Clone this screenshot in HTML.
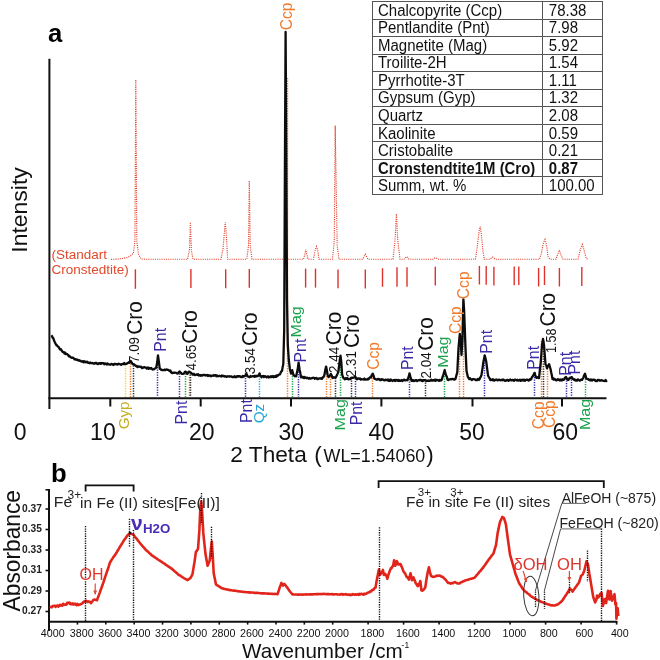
<!DOCTYPE html>
<html><head><meta charset="utf-8"><style>
html,body{margin:0;padding:0;background:#fff;}
svg{display:block;font-family:"Liberation Sans", sans-serif;will-change:transform;}
</style></head><body>
<svg width="660" height="660" viewBox="0 0 660 660">
<rect width="660" height="660" fill="#fff"/>
<path transform="translate(0 0.6)" d="M111 258.8 L120 258.3 L127 257 L131 255 L133.5 252 L134.9 240 L135.8 79 L136.8 240 L138.5 254 L141 258.3 L145 258.6 L187.5 258.6 L189.4 250 L190.4 221.6 L191.4 250 L193 258.6 L221 258.6 L223 248 L225.3 221.6 L226.4 235 L227.6 258.6 L246.8 258.6 L248.5 245 L249.3 180 L250.2 245 L252 258.6 L303.5 258.6 L305 253 L305.8 249 L306.6 253 L308 258.6 L313.5 258.6 L315 250 L316.4 246 L317.8 250 L319 258.6 L332.5 258.6 L334.3 240 L335.2 125 L336.4 200 L337.2 245 L339 258.6 L362.5 258.6 L365.3 253.6 L368 258.6 L393 258.6 L395 240 L396.4 213.3 L397.8 240 L400 258.6 L404 258.6 L406.6 256 L409 258.6 L433 258.6 L435.5 257 L438 258.6 L475.5 258.6 L477.3 246 L479.3 229 L480.2 226 L481.3 233 L482.7 248 L484.2 258.6 L490 258.6 L492.7 256.5 L495 258.6 L539.5 258.6 L541.5 252 L543.5 242 L545 238.8 L546.5 244 L548 256 L550 258.6 L556 258.6 L558 253 L559.3 249.4 L560.8 254 L563 258.6 L578 258.6 L580.3 249 L582.3 243.9 L584.2 250 L586.2 258 L588.5 258.6" fill="none" stroke="#e4452f" stroke-width="1.15" stroke-dasharray="1.1 1.1" />
<line x1="135.4" y1="269.3" x2="135.4" y2="288.8" stroke="#e0322c" stroke-width="1.4"/>
<line x1="190.9" y1="268.9" x2="190.9" y2="288" stroke="#e0322c" stroke-width="1.4"/>
<line x1="225.7" y1="269.3" x2="225.7" y2="288.3" stroke="#e0322c" stroke-width="1.4"/>
<line x1="249.3" y1="268.9" x2="249.3" y2="287.7" stroke="#e0322c" stroke-width="1.4"/>
<line x1="305.6" y1="268.6" x2="305.6" y2="287.6" stroke="#e0322c" stroke-width="1.4"/>
<line x1="315.5" y1="268.6" x2="315.5" y2="287.6" stroke="#e0322c" stroke-width="1.4"/>
<line x1="338" y1="269.4" x2="338" y2="288.3" stroke="#e0322c" stroke-width="1.4"/>
<line x1="365.3" y1="269.5" x2="365.3" y2="288.6" stroke="#e0322c" stroke-width="1.4"/>
<line x1="382.5" y1="268.2" x2="382.5" y2="286.8" stroke="#e0322c" stroke-width="1.4"/>
<line x1="397" y1="267.3" x2="397" y2="286.8" stroke="#e0322c" stroke-width="1.4"/>
<line x1="407" y1="267.3" x2="407" y2="286.8" stroke="#e0322c" stroke-width="1.4"/>
<line x1="435.3" y1="266.8" x2="435.3" y2="285.5" stroke="#e0322c" stroke-width="1.4"/>
<line x1="479.4" y1="265.9" x2="479.4" y2="284.5" stroke="#e0322c" stroke-width="1.4"/>
<line x1="486.2" y1="265.9" x2="486.2" y2="284.7" stroke="#e0322c" stroke-width="1.4"/>
<line x1="493.9" y1="266.8" x2="493.9" y2="285.6" stroke="#e0322c" stroke-width="1.4"/>
<line x1="514.2" y1="266.4" x2="514.2" y2="285.3" stroke="#e0322c" stroke-width="1.4"/>
<line x1="518.8" y1="266.4" x2="518.8" y2="285" stroke="#e0322c" stroke-width="1.4"/>
<line x1="538.6" y1="267.9" x2="538.6" y2="286.5" stroke="#e0322c" stroke-width="1.4"/>
<line x1="544.5" y1="265.9" x2="544.5" y2="285" stroke="#e0322c" stroke-width="1.4"/>
<line x1="559.4" y1="267.9" x2="559.4" y2="286.5" stroke="#e0322c" stroke-width="1.4"/>
<line x1="581.8" y1="267.1" x2="581.8" y2="285.9" stroke="#e0322c" stroke-width="1.4"/>
<text x="51.5" y="258.6" font-size="13.5" fill="#e04a2c">(Standart</text>
<text x="51.5" y="274.2" font-size="13.5" fill="#e04a2c">Cronstedtite)</text>
<line x1="125.5" y1="363" x2="125.5" y2="397" stroke="#f0d43a" stroke-width="1.5" stroke-dasharray="1.3 1.2"/>
<line x1="130.5" y1="361" x2="130.5" y2="397" stroke="#f07a2a" stroke-width="1.5" stroke-dasharray="1.3 1.2"/>
<line x1="133.5" y1="363" x2="133.5" y2="397" stroke="#2a2a2a" stroke-width="1.5" stroke-dasharray="1.3 1.2"/>
<line x1="157.5" y1="357" x2="157.5" y2="397" stroke="#3a2aa6" stroke-width="1.5" stroke-dasharray="1.3 1.2"/>
<line x1="179.5" y1="371" x2="179.5" y2="397" stroke="#3a2aa6" stroke-width="1.5" stroke-dasharray="1.3 1.2"/>
<line x1="185.5" y1="371" x2="185.5" y2="397" stroke="#1aa24c" stroke-width="1.5" stroke-dasharray="1.3 1.2"/>
<line x1="189.5" y1="372" x2="189.5" y2="397" stroke="#f07a2a" stroke-width="1.5" stroke-dasharray="1.3 1.2"/>
<line x1="190.5" y1="372" x2="190.5" y2="397" stroke="#2a2a2a" stroke-width="1.5" stroke-dasharray="1.3 1.2"/>
<line x1="245.5" y1="373" x2="245.5" y2="397" stroke="#3a2aa6" stroke-width="1.5" stroke-dasharray="1.3 1.2"/>
<line x1="259.5" y1="373.5" x2="259.5" y2="397" stroke="#2aa6dc" stroke-width="1.5" stroke-dasharray="1.3 1.2"/>
<line x1="287.5" y1="78" x2="287.5" y2="397" stroke="#f07a2a" stroke-width="1.5" stroke-dasharray="1.3 1.2"/>
<line x1="292.5" y1="371" x2="292.5" y2="397" stroke="#1aa24c" stroke-width="1.5" stroke-dasharray="1.3 1.2"/>
<line x1="298.5" y1="364" x2="298.5" y2="397" stroke="#3a2aa6" stroke-width="1.5" stroke-dasharray="1.3 1.2"/>
<line x1="326.5" y1="366" x2="326.5" y2="397" stroke="#f07a2a" stroke-width="1.5" stroke-dasharray="1.3 1.2"/>
<line x1="330.5" y1="374" x2="330.5" y2="397" stroke="#f07a2a" stroke-width="1.5" stroke-dasharray="1.3 1.2"/>
<line x1="335.5" y1="378" x2="335.5" y2="397" stroke="#2a2a2a" stroke-width="1.5" stroke-dasharray="1.3 1.2"/>
<line x1="340.5" y1="357" x2="340.5" y2="397" stroke="#1aa24c" stroke-width="1.5" stroke-dasharray="1.3 1.2"/>
<line x1="351.5" y1="378" x2="351.5" y2="397" stroke="#2a2a2a" stroke-width="1.5" stroke-dasharray="1.3 1.2"/>
<line x1="355.5" y1="376" x2="355.5" y2="397" stroke="#3a2aa6" stroke-width="1.5" stroke-dasharray="1.3 1.2"/>
<line x1="372.5" y1="373" x2="372.5" y2="397" stroke="#f07a2a" stroke-width="1.5" stroke-dasharray="1.3 1.2"/>
<line x1="409.5" y1="374" x2="409.5" y2="397" stroke="#3a2aa6" stroke-width="1.5" stroke-dasharray="1.3 1.2"/>
<line x1="425.5" y1="380" x2="425.5" y2="397" stroke="#2a2a2a" stroke-width="1.5" stroke-dasharray="1.3 1.2"/>
<line x1="444.5" y1="371" x2="444.5" y2="397" stroke="#1aa24c" stroke-width="1.5" stroke-dasharray="1.3 1.2"/>
<line x1="459.5" y1="336" x2="459.5" y2="397" stroke="#f07a2a" stroke-width="1.5" stroke-dasharray="1.3 1.2"/>
<line x1="463.5" y1="301" x2="463.5" y2="397" stroke="#f07a2a" stroke-width="1.5" stroke-dasharray="1.3 1.2"/>
<line x1="484.5" y1="355" x2="484.5" y2="397" stroke="#3a2aa6" stroke-width="1.5" stroke-dasharray="1.3 1.2"/>
<line x1="534.5" y1="372" x2="534.5" y2="397" stroke="#3a2aa6" stroke-width="1.5" stroke-dasharray="1.3 1.2"/>
<line x1="541.5" y1="341" x2="541.5" y2="397" stroke="#f07a2a" stroke-width="1.5" stroke-dasharray="1.3 1.2"/>
<line x1="543.5" y1="341" x2="543.5" y2="397" stroke="#2a2a2a" stroke-width="1.5" stroke-dasharray="1.3 1.2"/>
<line x1="547.5" y1="366" x2="547.5" y2="397" stroke="#f07a2a" stroke-width="1.5" stroke-dasharray="1.3 1.2"/>
<line x1="566.5" y1="378" x2="566.5" y2="397" stroke="#3a2aa6" stroke-width="1.5" stroke-dasharray="1.3 1.2"/>
<line x1="571.5" y1="377" x2="571.5" y2="397" stroke="#3a2aa6" stroke-width="1.5" stroke-dasharray="1.3 1.2"/>
<line x1="585.5" y1="374" x2="585.5" y2="397" stroke="#1aa24c" stroke-width="1.5" stroke-dasharray="1.3 1.2"/>
<path d="M51.4 335.35 L52.03 336.11 L52.67 337.81 L53.3 338 L54.07 340.55 L54.83 342.21 L55.6 343.68 L56.23 345.01 L56.87 345.05 L57.5 346.31 L58.13 346.5 L58.77 347.23 L59.4 348.39 L60.03 349.52 L60.67 349.11 L61.3 349.81 L61.93 350.95 L62.57 351.96 L63.2 352.01 L63.82 352.19 L64.43 353.43 L65.05 352.57 L65.67 354.14 L66.28 353.77 L66.9 354 L67.53 354.41 L68.17 355.13 L68.8 356.29 L69.43 355.85 L70.07 356.86 L70.7 357.39 L71.33 357.34 L71.97 357.9 L72.6 357.54 L73.23 357.85 L73.87 358.37 L74.5 359.35 L75.13 359.18 L75.77 359.21 L76.4 359.77 L77.03 359.77 L77.67 359.74 L78.3 360.61 L78.93 360.66 L79.57 360.21 L80.2 360.85 L80.83 360.97 L81.47 361.64 L82.1 361.62 L82.73 361.14 L83.37 362.24 L84 361.17 L84.63 361.72 L85.27 362.33 L85.9 361.61 L86.53 362.18 L87.17 361.65 L87.8 362.64 L88.43 362.87 L89.07 362.7 L89.7 363.23 L90.33 362.51 L90.97 363.11 L91.6 363.03 L92.23 363.08 L92.87 362.97 L93.5 363.58 L94.12 363.76 L94.73 363.13 L95.35 363.43 L95.97 362.62 L96.58 363.55 L97.2 363.51 L97.84 364.04 L98.47 363.84 L99.11 363.14 L99.74 363.33 L100.38 363.77 L101.01 362.91 L101.65 363.58 L102.28 363.21 L102.92 363.19 L103.55 363.15 L104.19 364.19 L104.82 363.35 L105.46 363.56 L106.09 363.81 L106.73 364.53 L107.36 363.47 L108 364.03 L108.62 364.19 L109.25 364.69 L109.88 364.62 L110.5 364.71 L111.12 363.91 L111.75 364.13 L112.38 364.08 L113 364.84 L113.62 364.97 L114.25 363.86 L114.88 363.92 L115.5 364.02 L116.12 364.05 L116.75 364.43 L117.38 364.6 L118 364.17 L118.62 363.72 L119.24 364.22 L119.85 364.07 L120.47 364.27 L121.09 364.73 L121.71 364.28 L122.33 363.95 L122.95 364.01 L123.56 364.01 L124.18 363.06 L124.8 364.16 L125.44 363.91 L126.08 363.96 L126.72 363.78 L127.36 363.13 L128 363.06 L128.75 362.29 L129.5 362.69 L130.7 360.99 L131.3 361.89 L131.9 362.99 L132.5 363.83 L133.12 364.43 L133.73 364.37 L134.35 364.65 L134.97 365.21 L135.58 365.49 L136.2 366.21 L136.8 365.84 L137.4 367.12 L138 366.86 L138.6 366.31 L139.2 366.55 L139.8 366.79 L140.4 366.91 L141 366.67 L141.6 367.79 L142.24 368.08 L142.88 367.43 L143.52 367.55 L144.16 367.08 L144.8 367.19 L145.44 367.62 L146.08 367.6 L146.72 368.48 L147.36 367.64 L148 367.53 L148.64 368.92 L149.28 368.42 L149.92 367.98 L150.56 368.62 L151.2 367.99 L151.84 368.78 L152.48 369.5 L153.12 369.43 L153.76 369.28 L154.4 368.77 L155.3 368.46 L156.2 367.73 L157.3 361.78 L158 355.35 L158.9 361.79 L159.8 368.86 L160.41 368.81 L161.02 369.74 L161.63 370.08 L162.24 369.99 L162.86 370.03 L163.47 370.15 L164.08 370.14 L164.69 369.52 L165.3 370.02 L165.93 369.86 L166.55 369.47 L167.18 369.53 L167.8 369.94 L168.43 369.98 L169.05 370.64 L169.68 371.08 L170.3 370.43 L170.95 372.01 L171.6 372.98 L172.3 373.16 L173 372.56 L173.7 372.58 L174.4 372.82 L175.12 372.72 L175.84 372.67 L176.56 373.19 L177.28 373.52 L178 373.38 L178.85 372.07 L179.7 371.51 L180.35 372.72 L181 372.72 L181.6 373.56 L182.2 373.95 L182.8 373.82 L183.4 373.81 L184 373.47 L184.8 371.95 L185.6 371.7 L186.3 372.17 L187 373.92 L187.68 373.61 L188.35 372.25 L189.02 371.71 L189.7 371.93 L190.3 372.51 L190.9 372.64 L191.5 373.48 L192.11 373.59 L192.71 374.72 L193.32 374.66 L193.93 373.82 L194.54 374.85 L195.14 375.14 L195.75 374.77 L196.36 374.42 L196.96 374.78 L197.57 374.27 L198.18 374.18 L198.79 375.6 L199.39 375.23 L200 375.14 L200.61 375.73 L201.21 375.06 L201.82 375.7 L202.42 375.67 L203.03 374.83 L203.64 374.92 L204.24 375 L204.85 374.95 L205.45 375.47 L206.06 375.04 L206.67 375.29 L207.27 374.91 L207.88 376.03 L208.48 375.28 L209.09 375.45 L209.7 375.65 L210.3 376.13 L210.91 375.48 L211.52 376.2 L212.12 375.65 L212.73 375.72 L213.33 375.73 L213.94 375.05 L214.55 375.67 L215.15 375.34 L215.76 375.11 L216.36 376.26 L216.97 375.4 L217.58 375.85 L218.18 376.23 L218.79 376.02 L219.39 375.73 L220 376.03 L220.61 376.1 L221.21 376.45 L221.82 375.52 L222.42 376.18 L223.03 375.77 L223.64 375.83 L224.24 376.55 L224.85 376.2 L225.45 376.3 L226.06 376.61 L226.67 376.84 L227.27 376.21 L227.88 376.47 L228.48 376.35 L229.09 376.38 L229.7 376.66 L230.3 376.35 L230.91 376.48 L231.52 376.43 L232.12 377.1 L232.73 376.79 L233.33 377.06 L233.94 377.18 L234.55 376.25 L235.15 376.69 L235.76 377.25 L236.36 377.13 L236.97 376.17 L237.58 376.17 L238.18 376.65 L238.79 376.15 L239.39 376.41 L240 376.2 L240.64 376.97 L241.29 377.05 L241.93 377.14 L242.57 376.03 L243.21 376.75 L243.86 376.6 L244.5 375.8 L245.35 375.59 L246.2 374.45 L246.8 374.34 L247.4 376.3 L248 376.46 L248.63 376.57 L249.27 377.26 L249.9 377.03 L250.53 376.07 L251.17 376.44 L251.8 376.54 L252.43 376.28 L253.07 376.07 L253.7 376.23 L254.33 376.78 L254.97 375.78 L255.6 376.52 L256.23 376.34 L256.87 375.74 L257.5 376.16 L258.17 375.77 L258.83 374.82 L259.5 373.39 L260.17 375.55 L260.83 376.14 L261.5 377.26 L262.11 376.07 L262.71 376.31 L263.32 376.02 L263.93 377.08 L264.54 376.39 L265.14 376.21 L265.75 376.64 L266.36 377.35 L266.96 377.24 L267.57 376.48 L268.18 376.34 L268.79 377.44 L269.39 376.98 L270 377.18 L270.6 376.28 L271.2 376.18 L271.8 377.01 L272.4 376.6 L273 376.05 L273.6 377.21 L274.2 376.74 L274.8 376.92 L275.4 375.87 L276 376.9 L276.7 375.41 L277.4 376.15 L278.1 375.2 L278.8 374.65 L279.5 374.57 L280.12 374.22 L280.75 372.43 L281.38 371.36 L282 371.04 L282.65 367.13 L283.3 364 L284.2 330 L285 150 L285.6 32 L286.3 150 L287 300 L287.8 345 L288.8 360 L289.8 368.45 L291 373.53 L292.2 370.17 L292.85 372.73 L293.5 375.24 L294.18 375.4 L294.85 376.21 L295.52 375.73 L296.2 376.2 L296.9 372.65 L297.6 369.79 L298.6 362.63 L299.6 369.65 L300.3 372.82 L301 377.33 L301.6 377.15 L302.2 376.73 L302.8 377.2 L303.4 377.93 L304 376.85 L304.6 377.93 L305.2 377.47 L305.8 377.63 L306.4 378.19 L307 377.65 L307.6 377.89 L308.2 378.22 L308.8 378.72 L309.4 377.9 L310 378.67 L310.6 378.52 L311.2 378.45 L311.8 378.16 L312.4 378.11 L313 377.73 L313.6 377.86 L314.2 377.81 L314.8 378.78 L315.4 378.13 L316 378.03 L316.6 377.95 L317.2 379.04 L317.8 379.11 L318.4 378.86 L319 378.34 L319.6 378.32 L320.2 378.42 L320.8 378.68 L321.4 378.29 L322 378.72 L322.62 377.39 L323.25 377.3 L323.88 376.24 L324.5 374.57 L325.3 369.89 L326.1 366.65 L326.85 370.23 L327.6 374.8 L328.5 377.1 L329.3 376.37 L330.1 375.23 L330.9 374 L331.75 375.58 L332.6 378.01 L333.28 377.27 L333.96 377.59 L334.64 377.31 L335.32 377.7 L336 377.16 L336.8 375.2 L337.6 373.66 L338.4 371.63 L339.1 366.12 L339.8 360.04 L340.5 355.75 L341.3 362.22 L342.1 374.3 L342.85 376.78 L343.6 378.35 L344.24 378.29 L344.88 379.24 L345.52 378.1 L346.16 378.93 L346.8 378.85 L347.44 378.04 L348.08 379.18 L348.72 379.29 L349.36 378.95 L350 379.13 L350.64 378.95 L351.27 377.72 L351.91 377.97 L352.55 377.66 L353.19 377.83 L353.83 377.5 L354.46 377.24 L355.1 376.62 L355.73 377.88 L356.37 378.42 L357 379.27 L357.61 378.64 L358.22 378.39 L358.83 378.55 L359.44 378.89 L360.06 378.56 L360.67 379.6 L361.28 379.24 L361.89 379.36 L362.5 379.38 L363.11 379.48 L363.72 379.23 L364.33 378.57 L364.94 379.71 L365.56 379.66 L366.17 379.34 L366.78 379.4 L367.39 379.6 L368 378.79 L368.6 379.29 L369.2 378.17 L369.8 377.48 L370.4 377.31 L371 377.52 L371.6 375.39 L372.2 374.74 L372.8 373.67 L373.6 375.89 L374.4 378.64 L375.02 378.88 L375.64 379.28 L376.27 379.51 L376.89 379.41 L377.51 379.56 L378.13 378.88 L378.76 379.08 L379.38 379.34 L380 380.14 L380.6 379.55 L381.2 379.94 L381.8 379.19 L382.4 379.28 L383 379.6 L383.6 380.18 L384.2 380.24 L384.8 380.24 L385.4 379.72 L386 380.06 L386.6 380.01 L387.2 380.04 L387.8 379.58 L388.4 380.69 L389 379.74 L389.6 380.85 L390.2 380.82 L390.8 379.56 L391.4 380.2 L392 380.73 L392.6 380.96 L393.2 380.26 L393.8 380.03 L394.4 379.97 L395 381.02 L395.62 379.99 L396.25 380.51 L396.88 379.9 L397.5 380.43 L398.12 381.03 L398.75 379.89 L399.38 380.85 L400 380.41 L400.62 380.94 L401.25 380.68 L401.88 380.02 L402.5 380.96 L403.12 380.38 L403.75 379.73 L404.38 379.71 L405 380.39 L405.62 380.33 L406.25 380.12 L406.88 379.9 L407.5 380.18 L408.7 376.74 L409.5 373.38 L410.4 376.8 L411.5 380.75 L412.12 380.87 L412.75 379.87 L413.38 381 L414 380.7 L414.62 380.96 L415.25 380.11 L415.88 380.22 L416.5 380.25 L417.12 381.1 L417.75 380.52 L418.38 380.2 L419 380.3 L419.62 380.09 L420.25 379.77 L420.88 379.84 L421.5 380.87 L422.12 380.1 L422.75 381.01 L423.38 380.05 L424 380.07 L424.6 380.41 L425.21 379.95 L425.81 380.2 L426.41 381.01 L427.02 380.9 L427.62 380.8 L428.22 380.53 L428.83 380.92 L429.43 380.95 L430.03 380.4 L430.64 380.63 L431.24 379.69 L431.84 380.64 L432.45 380.23 L433.05 380.65 L433.66 380.49 L434.26 379.98 L434.86 379.64 L435.47 380.87 L436.07 379.74 L436.67 380.22 L437.28 380.03 L437.88 379.96 L438.48 380.57 L439.09 380.89 L439.69 379.88 L440.29 380.43 L440.9 379.93 L441.5 380.28 L442.35 377.7 L443.2 375.03 L443.95 372.48 L444.7 369.99 L445.35 373.27 L446 375 L446.8 376.71 L447.6 379.77 L448.23 380.1 L448.87 379.53 L449.5 379.3 L450.1 379.29 L450.7 379.07 L451.3 379.34 L451.9 378.91 L452.5 379.03 L453.1 378.98 L453.7 379.34 L454.3 379.7 L454.9 379.43 L455.5 378.88 L456.1 376.55 L456.7 374.37 L457.3 372 L458.5 348 L459.15 341 L459.8 334 L460.8 342 L461.5 355 L462.4 340 L463.1 310 L463.4 299.3 L464.1 310 L464.8 329 L465.5 348 L466.5 370.83 L467.25 374.27 L468 377.39 L468.67 377.94 L469.33 379.15 L470 378.23 L470.67 379 L471.33 379.43 L472 380.01 L472.64 379.11 L473.27 379.2 L473.91 379.18 L474.55 379.4 L475.18 379.47 L475.82 380.19 L476.45 380.05 L477.09 380.09 L477.73 378.91 L478.36 378.94 L479 379.89 L479.62 379.13 L480.25 377.51 L480.88 376.65 L481.5 374.8 L482.1 370.85 L482.7 367.1 L483.3 362.46 L484 358.85 L484.7 355.36 L485.45 358 L486.2 361.45 L486.8 365.85 L487.4 370.7 L488 375.25 L488.62 376.82 L489.25 377.71 L489.88 378.81 L490.5 380.17 L491.13 379.77 L491.77 379.93 L492.4 379.24 L493.03 380.3 L493.67 379.56 L494.3 380.55 L494.93 380.19 L495.57 379.74 L496.2 379.52 L496.83 379.72 L497.47 380.28 L498.1 380.4 L498.73 379.6 L499.37 379.57 L500 380.23 L500.61 380.32 L501.21 380.04 L501.82 379.81 L502.42 380.34 L503.03 379.51 L503.64 379.92 L504.24 380.14 L504.85 380.84 L505.45 380.4 L506.06 380.74 L506.67 380.17 L507.27 379.83 L507.88 379.85 L508.48 380.84 L509.09 380.49 L509.7 379.93 L510.3 379.53 L510.91 380.2 L511.52 380.44 L512.12 380.09 L512.73 379.86 L513.33 380.43 L513.94 380.8 L514.55 379.82 L515.15 379.55 L515.76 379.97 L516.36 380.09 L516.97 380.46 L517.58 379.78 L518.18 380.62 L518.79 380.53 L519.39 380.21 L520 379.79 L520.62 380.85 L521.25 379.91 L521.88 380.61 L522.5 379.77 L523.12 379.75 L523.75 380.49 L524.38 379.83 L525 380.73 L525.62 380.08 L526.25 379.64 L526.88 379.68 L527.5 379.93 L528.12 380.27 L528.75 380.65 L529.38 379.52 L530 379.85 L530.6 378.9 L531.2 379.26 L531.8 377.4 L532.4 376.57 L533 375.88 L533.8 374.25 L534.6 372.86 L535.3 375.19 L536 377.33 L536.6 377.8 L537.2 377.8 L537.8 377.06 L538.4 376.96 L539 378.11 L539.9 369.75 L540.8 362 L541.4 353.5 L542 345 L543 338.9 L544 345 L544.75 354.5 L545.5 364.34 L546.25 365.34 L547 368.23 L547.7 366.63 L548.4 365.42 L549.1 364.16 L549.85 366.74 L550.6 369.3 L551.23 372.53 L551.87 375.46 L552.5 379.14 L553.2 378.23 L553.9 379.67 L554.6 378.87 L555.3 379.34 L556 380.25 L556.64 380.27 L557.27 379.74 L557.91 379.22 L558.55 379.84 L559.18 379.71 L559.82 380.5 L560.45 379.5 L561.09 379.76 L561.73 380.52 L562.36 379.32 L563 379.88 L563.6 379.96 L564.2 379.41 L564.8 377.92 L565.4 377.43 L566 376.99 L566.67 378.85 L567.33 378.59 L568 379.95 L568.68 379.64 L569.36 378.33 L570.04 377.72 L570.72 378.16 L571.4 377.16 L572.05 377.42 L572.7 378.8 L573.35 378.99 L574 379.69 L574.62 379.31 L575.23 380.36 L575.85 380.58 L576.46 380.19 L577.08 380.62 L577.69 379.33 L578.31 379.63 L578.92 379.97 L579.54 380.64 L580.15 380.64 L580.77 379.84 L581.38 379.65 L582 379.9 L582.67 378.66 L583.33 377.93 L584 375.56 L585 373.72 L585.65 375.98 L586.3 378.45 L586.97 378.88 L587.65 379.15 L588.33 379.26 L589 379.75 L589.61 379.83 L590.22 380.45 L590.83 379.49 L591.44 379.69 L592.06 380.49 L592.67 379.81 L593.28 379.59 L593.89 379.57 L594.5 380.32 L595.11 380.03 L595.72 380.98 L596.33 380.87 L596.94 381.04 L597.56 380.06 L598.17 379.83 L598.78 379.88 L599.39 380.47 L600 380.79 L600.64 380.43 L601.27 380.15 L601.91 380.41 L602.55 380.7 L603.18 380.79 L603.82 380.9 L604.45 381.05 L605.09 380.8 L605.73 380.05 L606.36 381.07 L607 380.6" fill="none" stroke="#0c0c0c" stroke-width="2.3" stroke-linejoin="round"/>
<line x1="49.4" y1="58.8" x2="49.4" y2="409" stroke="#111" stroke-width="2"/>
<line x1="48.4" y1="398.3" x2="606.5" y2="398.3" stroke="#111" stroke-width="2"/>
<line x1="110.3" y1="398" x2="110.3" y2="406.5" stroke="#111" stroke-width="2"/>
<line x1="200.7" y1="398" x2="200.7" y2="406.5" stroke="#111" stroke-width="2"/>
<line x1="291" y1="398" x2="291" y2="406.5" stroke="#111" stroke-width="2"/>
<line x1="381.4" y1="398" x2="381.4" y2="406.5" stroke="#111" stroke-width="2"/>
<line x1="472.5" y1="398" x2="472.5" y2="406.5" stroke="#111" stroke-width="2"/>
<line x1="562" y1="398" x2="562" y2="406.5" stroke="#111" stroke-width="2"/>
<text x="20.1" y="439.5"  font-size="23" fill="#111" font-weight="normal" text-anchor="middle" >0</text>
<text x="102.9" y="439.5"  font-size="23" fill="#111" font-weight="normal" text-anchor="middle" >10</text>
<text x="201.8" y="439.5"  font-size="23" fill="#111" font-weight="normal" text-anchor="middle" >20</text>
<text x="291.3" y="439.5"  font-size="23" fill="#111" font-weight="normal" text-anchor="middle" >30</text>
<text x="381.4" y="439.5"  font-size="23" fill="#111" font-weight="normal" text-anchor="middle" >40</text>
<text x="472" y="439.5"  font-size="23" fill="#111" font-weight="normal" text-anchor="middle" >50</text>
<text x="565.3" y="439.5"  font-size="23" fill="#111" font-weight="normal" text-anchor="middle" >60</text>
<text transform="translate(47.95 41.75) scale(0.970 1)" font-size="26.5" font-weight="bold" fill="#000" >a</text>
<text transform="translate(27.05 252.75) rotate(-90) scale(1.030 1)" font-size="22.3" font-weight="normal" fill="#111" >Intensity</text>
<text transform="translate(230.3 462.35) scale(1.070 1)" font-size="21.2" font-weight="normal" fill="#111" >2 Theta</text>
<text x="314.3" y="461.8" font-size="22.5" fill="#111">(</text>
<text transform="translate(323.55 462.2) scale(0.947 1)" font-size="18.86" font-weight="normal" fill="#111" >WL=1.54060</text>
<text x="426.2" y="461.8" font-size="22.5" fill="#111">)</text>
<text transform="translate(142.45 334.8) rotate(-90) scale(0.948 1)" font-size="22" fill="#111">Cro</text>
<text transform="translate(138.8 363) rotate(-90) scale(0.977 1)" font-size="13.71" fill="#111">7.09</text>
<text transform="translate(197.45 343.65) rotate(-90) scale(0.948 1)" font-size="22" fill="#111">Cro</text>
<text transform="translate(195.7 370.15) rotate(-90) scale(0.952 1)" font-size="13.71" fill="#111">4.65</text>
<text transform="translate(257.1 346.1) rotate(-90) scale(0.948 1)" font-size="22" fill="#111">Cro</text>
<text transform="translate(254.6 374.15) rotate(-90) scale(0.977 1)" font-size="13.71" fill="#111">3.54</text>
<text transform="translate(340.95 345.25) rotate(-90) scale(0.948 1)" font-size="22" fill="#111">Cro</text>
<text transform="translate(339.4 372.95) rotate(-90) scale(0.977 1)" font-size="13.71" fill="#111">2.44</text>
<text transform="translate(358.6 348.05) rotate(-90) scale(0.948 1)" font-size="22" fill="#111">Cro</text>
<text transform="translate(356.45 377.2) rotate(-90) scale(0.977 1)" font-size="13.71" fill="#111">2.31</text>
<text transform="translate(432.6 350.7) rotate(-90) scale(0.948 1)" font-size="22" fill="#111">Cro</text>
<text transform="translate(430.5 378.4) rotate(-90) scale(0.977 1)" font-size="13.71" fill="#111">2.04</text>
<text transform="translate(554.8 326.4) rotate(-90) scale(0.948 1)" font-size="22" fill="#111">Cro</text>
<text transform="translate(555.85 353) rotate(-90) scale(0.914 1)" font-size="13.71" fill="#111">1.58</text>
<text transform="translate(165.55 351.75) rotate(-90) scale(0.987 1)" font-size="16.14" fill="#3a2aa6">Pnt</text>
<text transform="translate(306.45 362.5) rotate(-90) scale(0.987 1)" font-size="16.14" fill="#3a2aa6">Pnt</text>
<text transform="translate(300.7 337.5) rotate(-90) scale(1.036 1)" font-size="15.56" fill="#1aa24c">Mag</text>
<text transform="translate(379 369.85) rotate(-90) scale(0.968 1)" font-size="16.11" fill="#f07a2a">Ccp</text>
<text transform="translate(413.05 370.1) rotate(-90) scale(0.987 1)" font-size="16.14" fill="#3a2aa6">Pnt</text>
<text transform="translate(447.6 367.75) rotate(-90) scale(1.036 1)" font-size="15.56" fill="#1aa24c">Mag</text>
<text transform="translate(461.1 334.1) rotate(-90) scale(0.968 1)" font-size="16.11" fill="#f07a2a">Ccp</text>
<text transform="translate(469.05 299.15) rotate(-90) scale(0.968 1)" font-size="16.11" fill="#f07a2a">Ccp</text>
<text transform="translate(492.25 353.75) rotate(-90) scale(0.987 1)" font-size="16.14" fill="#3a2aa6">Pnt</text>
<text transform="translate(539.1 369.75) rotate(-90) scale(0.987 1)" font-size="16.14" fill="#3a2aa6">Pnt</text>
<text transform="translate(570.6 375.75) rotate(-90) scale(0.987 1)" font-size="16.14" fill="#3a2aa6">Pnt</text>
<text transform="translate(579.7 374.55) rotate(-90) scale(0.987 1)" font-size="16.14" fill="#3a2aa6">Pnt</text>
<text transform="translate(291.9 30.3) rotate(-90) scale(0.968 1)" font-size="16.11" fill="#f07a2a">Ccp</text>
<text transform="translate(129 429.3) rotate(-90) scale(0.995 1)" font-size="15.22" fill="#c2ad24">Gyp</text>
<text transform="translate(186.85 424.55) rotate(-90) scale(0.987 1)" font-size="16.14" fill="#3a2aa6">Pnt</text>
<text transform="translate(252.25 423.05) rotate(-90) scale(0.987 1)" font-size="16.14" fill="#3a2aa6">Pnt</text>
<text transform="translate(263.95 423.3) rotate(-90) scale(1.017 1)" font-size="15" fill="#2aa6dc">Qz</text>
<text transform="translate(344.75 430.45) rotate(-90) scale(1.036 1)" font-size="15.56" fill="#1aa24c">Mag</text>
<text transform="translate(362.35 425.35) rotate(-90) scale(0.987 1)" font-size="16.14" fill="#3a2aa6">Pnt</text>
<text transform="translate(544.25 429.15) rotate(-90) scale(0.968 1)" font-size="16.11" fill="#f07a2a">Ccp</text>
<text transform="translate(554.88 428) rotate(-90) scale(0.968 1)" font-size="16.11" fill="#f07a2a">Ccp</text>
<text transform="translate(590.22 430.05) rotate(-90) scale(1.036 1)" font-size="15.56" fill="#1aa24c">Mag</text>
<rect x="372.5" y="1.5" width="230" height="193" fill="#fff" stroke="#555" stroke-width="1"/>
<line x1="372.5" y1="19.5" x2="602.5" y2="19.5" stroke="#555" stroke-width="1"/>
<line x1="372.5" y1="36.5" x2="602.5" y2="36.5" stroke="#555" stroke-width="1"/>
<line x1="372.5" y1="54.5" x2="602.5" y2="54.5" stroke="#555" stroke-width="1"/>
<line x1="372.5" y1="71.5" x2="602.5" y2="71.5" stroke="#555" stroke-width="1"/>
<line x1="372.5" y1="89.5" x2="602.5" y2="89.5" stroke="#555" stroke-width="1"/>
<line x1="372.5" y1="106.5" x2="602.5" y2="106.5" stroke="#555" stroke-width="1"/>
<line x1="372.5" y1="124.5" x2="602.5" y2="124.5" stroke="#555" stroke-width="1"/>
<line x1="372.5" y1="141.5" x2="602.5" y2="141.5" stroke="#555" stroke-width="1"/>
<line x1="372.5" y1="159.5" x2="602.5" y2="159.5" stroke="#555" stroke-width="1"/>
<line x1="372.5" y1="176.5" x2="602.5" y2="176.5" stroke="#555" stroke-width="1"/>
<line x1="542.5" y1="1.5" x2="542.5" y2="194.5" stroke="#555" stroke-width="1"/>
<text transform="translate(378 15.8) scale(0.962 1)" font-size="15.6" font-weight="normal" fill="#111">Chalcopyrite (Ccp)</text>
<text transform="translate(548.8 15.8) scale(0.962 1)" font-size="15.6" font-weight="normal" fill="#111">78.38</text>
<text transform="translate(378 33.34) scale(0.962 1)" font-size="15.6" font-weight="normal" fill="#111">Pentlandite (Pnt)</text>
<text transform="translate(548.8 33.34) scale(0.962 1)" font-size="15.6" font-weight="normal" fill="#111">7.98</text>
<text transform="translate(378 50.87) scale(0.962 1)" font-size="15.6" font-weight="normal" fill="#111">Magnetite (Mag)</text>
<text transform="translate(548.8 50.87) scale(0.962 1)" font-size="15.6" font-weight="normal" fill="#111">5.92</text>
<text transform="translate(378 68.41) scale(0.962 1)" font-size="15.6" font-weight="normal" fill="#111">Troilite-2H</text>
<text transform="translate(548.8 68.41) scale(0.962 1)" font-size="15.6" font-weight="normal" fill="#111">1.54</text>
<text transform="translate(378 85.94) scale(0.962 1)" font-size="15.6" font-weight="normal" fill="#111">Pyrrhotite-3T</text>
<text transform="translate(548.8 85.94) scale(0.962 1)" font-size="15.6" font-weight="normal" fill="#111">1.11</text>
<text transform="translate(378 103.48) scale(0.962 1)" font-size="15.6" font-weight="normal" fill="#111">Gypsum (Gyp)</text>
<text transform="translate(548.8 103.48) scale(0.962 1)" font-size="15.6" font-weight="normal" fill="#111">1.32</text>
<text transform="translate(378 121.02) scale(0.962 1)" font-size="15.6" font-weight="normal" fill="#111">Quartz</text>
<text transform="translate(548.8 121.02) scale(0.962 1)" font-size="15.6" font-weight="normal" fill="#111">2.08</text>
<text transform="translate(378 138.55) scale(0.962 1)" font-size="15.6" font-weight="normal" fill="#111">Kaolinite</text>
<text transform="translate(548.8 138.55) scale(0.962 1)" font-size="15.6" font-weight="normal" fill="#111">0.59</text>
<text transform="translate(378 156.09) scale(0.962 1)" font-size="15.6" font-weight="normal" fill="#111">Cristobalite</text>
<text transform="translate(548.8 156.09) scale(0.962 1)" font-size="15.6" font-weight="normal" fill="#111">0.21</text>
<text transform="translate(378 173.62) scale(0.955 1)" font-size="15.6" font-weight="bold" fill="#111">Cronstendtite1M (Cro)</text>
<text transform="translate(548.8 173.62) scale(0.962 1)" font-size="15.6" font-weight="bold" fill="#111">0.87</text>
<text transform="translate(378 191.16) scale(0.962 1)" font-size="15.6" font-weight="normal" fill="#111">Summ, wt. %</text>
<text transform="translate(548.8 191.16) scale(0.962 1)" font-size="15.6" font-weight="normal" fill="#111">100.00</text>
<text transform="translate(50.9 481.8) scale(0.970 1)" font-size="26.5" font-weight="bold" fill="#000" >b</text>
<text transform="translate(19.7 611.45) rotate(-90) scale(0.969 1)" font-size="23.5" font-weight="normal" fill="#111" >Absorbance</text>
<line x1="49" y1="489" x2="49" y2="631" stroke="#111" stroke-width="2"/>
<line x1="48" y1="621.8" x2="617.5" y2="621.8" stroke="#111" stroke-width="2"/>
<line x1="45.5" y1="509" x2="48.8" y2="509" stroke="#111" stroke-width="1.6"/>
<text x="41.9" y="511.9"  font-size="10.2" fill="#222" font-weight="bold" text-anchor="end" >0.37</text>
<line x1="45.5" y1="529.5" x2="48.8" y2="529.5" stroke="#111" stroke-width="1.6"/>
<text x="41.9" y="532.4"  font-size="10.2" fill="#222" font-weight="bold" text-anchor="end" >0.35</text>
<line x1="45.5" y1="550" x2="48.8" y2="550" stroke="#111" stroke-width="1.6"/>
<text x="41.9" y="552.9"  font-size="10.2" fill="#222" font-weight="bold" text-anchor="end" >0.33</text>
<line x1="45.5" y1="570.5" x2="48.8" y2="570.5" stroke="#111" stroke-width="1.6"/>
<text x="41.9" y="573.4"  font-size="10.2" fill="#222" font-weight="bold" text-anchor="end" >0.31</text>
<line x1="45.5" y1="591" x2="48.8" y2="591" stroke="#111" stroke-width="1.6"/>
<text x="41.9" y="593.9"  font-size="10.2" fill="#222" font-weight="bold" text-anchor="end" >0.29</text>
<line x1="45.5" y1="611.5" x2="48.8" y2="611.5" stroke="#111" stroke-width="1.6"/>
<text x="41.9" y="614.4"  font-size="10.2" fill="#222" font-weight="bold" text-anchor="end" >0.27</text>
<line x1="45.5" y1="489.8" x2="48.8" y2="489.8" stroke="#111" stroke-width="1.6"/>
<text x="52.7" y="637.2"  font-size="10.7" fill="#111" font-weight="normal" text-anchor="middle" >4000</text>
<line x1="77.46" y1="621.8" x2="77.46" y2="624.6" stroke="#111" stroke-width="1.6"/>
<text x="81.76" y="637.2"  font-size="10.7" fill="#111" font-weight="normal" text-anchor="middle" >3800</text>
<line x1="105.82" y1="621.8" x2="105.82" y2="624.6" stroke="#111" stroke-width="1.6"/>
<text x="110.12" y="637.2"  font-size="10.7" fill="#111" font-weight="normal" text-anchor="middle" >3600</text>
<line x1="134.18" y1="621.8" x2="134.18" y2="624.6" stroke="#111" stroke-width="1.6"/>
<text x="138.48" y="637.2"  font-size="10.7" fill="#111" font-weight="normal" text-anchor="middle" >3400</text>
<line x1="162.54" y1="621.8" x2="162.54" y2="624.6" stroke="#111" stroke-width="1.6"/>
<text x="166.84" y="637.2"  font-size="10.7" fill="#111" font-weight="normal" text-anchor="middle" >3200</text>
<line x1="190.9" y1="621.8" x2="190.9" y2="624.6" stroke="#111" stroke-width="1.6"/>
<text x="195.2" y="637.2"  font-size="10.7" fill="#111" font-weight="normal" text-anchor="middle" >3000</text>
<line x1="219.26" y1="621.8" x2="219.26" y2="624.6" stroke="#111" stroke-width="1.6"/>
<text x="223.56" y="637.2"  font-size="10.7" fill="#111" font-weight="normal" text-anchor="middle" >2800</text>
<line x1="247.62" y1="621.8" x2="247.62" y2="624.6" stroke="#111" stroke-width="1.6"/>
<text x="251.92" y="637.2"  font-size="10.7" fill="#111" font-weight="normal" text-anchor="middle" >2600</text>
<line x1="275.98" y1="621.8" x2="275.98" y2="624.6" stroke="#111" stroke-width="1.6"/>
<text x="280.28" y="637.2"  font-size="10.7" fill="#111" font-weight="normal" text-anchor="middle" >2400</text>
<line x1="304.34" y1="621.8" x2="304.34" y2="624.6" stroke="#111" stroke-width="1.6"/>
<text x="308.64" y="637.2"  font-size="10.7" fill="#111" font-weight="normal" text-anchor="middle" >2200</text>
<line x1="332.7" y1="621.8" x2="332.7" y2="624.6" stroke="#111" stroke-width="1.6"/>
<text x="337" y="637.2"  font-size="10.7" fill="#111" font-weight="normal" text-anchor="middle" >2000</text>
<line x1="368.1" y1="621.8" x2="368.1" y2="624.6" stroke="#111" stroke-width="1.6"/>
<text x="372.4" y="637.2"  font-size="10.7" fill="#111" font-weight="normal" text-anchor="middle" >1800</text>
<line x1="403.6" y1="621.8" x2="403.6" y2="624.6" stroke="#111" stroke-width="1.6"/>
<text x="407.9" y="637.2"  font-size="10.7" fill="#111" font-weight="normal" text-anchor="middle" >1600</text>
<line x1="439.1" y1="621.8" x2="439.1" y2="624.6" stroke="#111" stroke-width="1.6"/>
<text x="443.4" y="637.2"  font-size="10.7" fill="#111" font-weight="normal" text-anchor="middle" >1400</text>
<line x1="474.6" y1="621.8" x2="474.6" y2="624.6" stroke="#111" stroke-width="1.6"/>
<text x="478.9" y="637.2"  font-size="10.7" fill="#111" font-weight="normal" text-anchor="middle" >1200</text>
<line x1="510.1" y1="621.8" x2="510.1" y2="624.6" stroke="#111" stroke-width="1.6"/>
<text x="514.4" y="637.2"  font-size="10.7" fill="#111" font-weight="normal" text-anchor="middle" >1000</text>
<line x1="545.6" y1="621.8" x2="545.6" y2="624.6" stroke="#111" stroke-width="1.6"/>
<text x="548.8" y="637.2"  font-size="10.7" fill="#111" font-weight="normal" text-anchor="middle" >800</text>
<line x1="581.1" y1="621.8" x2="581.1" y2="624.6" stroke="#111" stroke-width="1.6"/>
<text x="584.3" y="637.2"  font-size="10.7" fill="#111" font-weight="normal" text-anchor="middle" >600</text>
<line x1="616.6" y1="621.8" x2="616.6" y2="624.6" stroke="#111" stroke-width="1.6"/>
<text x="619.8" y="637.2"  font-size="10.7" fill="#111" font-weight="normal" text-anchor="middle" >400</text>
<text transform="translate(242.05 658.25) scale(1.005 1)" font-size="20.5" font-weight="normal" fill="#111" >Wavenumber /cm</text>
<text x="401.6" y="648" font-size="8.5" fill="#111">-1</text>
<path d="M49.5 607.25 L50.27 607.27 L51.03 606.77 L51.8 607.28 L52.57 606.16 L53.33 606.1 L54.1 605.94 L54.85 605.66 L55.6 606.86 L56.35 606.19 L57.1 605.62 L57.85 605.63 L58.6 606.59 L59.37 605.51 L60.13 604.82 L60.9 605.66 L61.67 605.18 L62.43 605.58 L63.2 603.78 L63.99 604.29 L64.78 604.75 L65.56 604.63 L66.35 604.6 L67.14 602.86 L67.92 603.15 L68.71 602.68 L69.5 602.64 L70.29 604.18 L71.07 603.61 L71.86 604.36 L72.64 603.48 L73.43 604.5 L74.21 603.88 L75 603.67 L75.75 604.75 L76.5 605.2 L77.25 603.84 L78 604.87 L78.75 605.07 L79.5 604.49 L80.43 604.46 L81.37 603.75 L82.3 603.57 L83.2 602.31 L84.1 601.58 L84.82 601.75 L85.54 601.03 L86.26 600.76 L86.98 601.41 L87.7 602.12 L88.5 601.43 L89.3 601.86 L90.1 601.87 L90.9 603.13 L92.3 601.49 L93.2 600.08 L94.1 599.62 L95 599.61 L96 599.99 L97 600.25 L98.05 597.2 L99.1 594.52 L99.8 592.6 L100.5 590.48 L101.5 587.7 L102.5 584.95 L103.4 582.38 L104.3 579.49 L105.2 576.82 L106.13 574.07 L107.07 571.38 L108 568.79 L109 565.72 L110 562.47 L111.05 560.73 L112.1 559.15 L112.95 557.83 L113.8 556.58 L114.65 555.6 L115.5 554.28 L116.32 553.02 L117.14 551.56 L117.96 550.31 L118.78 548.85 L119.6 547.42 L120.42 546.02 L121.24 544.79 L122.06 543.45 L122.88 542.16 L123.7 540.6 L124.5 539.63 L125.3 538.47 L126.1 537.4 L126.9 536.22 L127.7 535.15 L128.4 534.54 L129.1 533.97 L129.8 533.11 L130.65 533.52 L131.5 533.92 L132.35 534.29 L133.2 534.43 L133.99 535.4 L134.77 536.58 L135.56 537.57 L136.34 538.44 L137.13 539.32 L137.91 540.52 L138.7 541.37 L139.52 542.52 L140.35 543.48 L141.18 544.55 L142 545.42 L142.8 546.47 L143.6 547.23 L144.4 548.18 L145.2 549.18 L146 550.08 L146.71 550.57 L147.43 551.23 L148.14 551.93 L148.85 552.6 L149.56 553.22 L150.27 553.81 L150.99 554.49 L151.7 555.25 L152.4 555.77 L153.1 556.05 L153.8 556.65 L154.5 557.17 L155.2 557.48 L155.9 558.15 L156.6 558.45 L157.3 559.05 L158 559.51 L158.73 560.01 L159.45 560.42 L160.18 560.93 L160.91 561.45 L161.64 561.89 L162.36 562.43 L163.09 562.86 L163.82 563.34 L164.55 563.72 L165.27 564.35 L166 564.8 L166.75 565.26 L167.5 565.91 L168.25 566.44 L169 566.89 L169.75 567.35 L170.5 567.94 L171.25 568.38 L172 568.91 L172.7 569.59 L173.4 570.12 L174.1 570.82 L174.8 571.45 L175.5 571.95 L176.2 572.7 L176.9 573.18 L177.6 573.94 L178.3 574.57 L179.08 575 L179.87 575.39 L180.65 576 L181.43 576.47 L182.22 577.11 L183 577.41 L183.73 578 L184.47 578.45 L185.2 578.81 L185.93 579.24 L186.67 579.51 L187.4 580.12 L188.18 579.5 L188.95 579.11 L189.72 578.6 L190.5 577.92 L191.5 576.07 L192.5 574.1 L193.5 567.9 L194.5 561.96 L195.2 557.06 L195.9 551.92 L196.95 550.6 L198 548.95 L198.7 539.58 L199.4 529.91 L200.4 506 L201.2 501.3 L202 509.93 L203.3 532.94 L204.03 540.07 L204.77 547.09 L205.5 554.09 L206.55 559.97 L207.6 565.82 L208.65 563.35 L209.7 560.64 L211 548.09 L211.8 541.42 L212.7 555.07 L213.7 573.21 L214.47 577.04 L215.23 580.8 L216 584.47 L216.75 585.06 L217.5 585.46 L218.25 585.94 L219 586.49 L219.75 586.78 L220.5 587.47 L221.25 587.86 L222 588.27 L222.76 588.55 L223.51 588.6 L224.27 588.95 L225.02 589.03 L225.78 589.16 L226.53 589.43 L227.29 589.53 L228.04 589.64 L228.8 589.96 L229.5 589.89 L230.21 590.18 L230.91 590.14 L231.62 590.33 L232.32 590.52 L233.03 590.52 L233.73 590.64 L234.44 590.66 L235.14 590.68 L235.85 590.79 L236.55 590.92 L237.26 591.13 L237.96 591.18 L238.67 591.3 L239.37 591.49 L240.08 591.41 L240.78 591.53 L241.49 591.74 L242.19 591.69 L242.9 591.78 L243.6 591.97 L244.31 591.96 L245.02 592.07 L245.73 592.08 L246.44 592.22 L247.15 592.27 L247.86 592.23 L248.57 592.38 L249.28 592.39 L249.99 592.36 L250.7 592.6 L251.41 592.49 L252.12 592.52 L252.83 592.55 L253.54 592.73 L254.25 592.84 L254.96 592.87 L255.67 592.83 L256.38 592.84 L257.09 592.83 L257.8 593.03 L258.51 593.06 L259.22 593.06 L259.93 593.18 L260.64 593.19 L261.35 593.35 L262.06 593.36 L262.77 593.29 L263.48 593.5 L264.19 593.34 L264.9 593.51 L265.61 593.51 L266.31 593.5 L267.02 593.49 L267.72 593.7 L268.43 593.55 L269.13 593.71 L269.84 593.84 L270.54 593.68 L271.25 593.73 L271.96 593.86 L272.66 593.87 L273.37 593.93 L274.07 594.01 L274.78 593.89 L275.48 593.95 L276.19 593.99 L276.89 593.96 L277.6 594.19 L278.4 591.62 L279.2 589.05 L279.93 586.85 L280.67 585.02 L281.4 582.96 L282.2 584.19 L283 585.56 L284.2 583.99 L285.1 584.93 L286 585.91 L286.8 587.04 L287.6 588.09 L288.4 589.26 L289.2 590.46 L290 591.55 L290.8 592.55 L291.6 593.48 L292.4 594.34 L293.16 594.43 L293.92 594.42 L294.68 594.53 L295.44 594.49 L296.2 594.44 L296.96 594.55 L297.72 594.65 L298.48 594.49 L299.24 594.67 L300 594.48 L300.71 594.52 L301.41 594.5 L302.12 594.61 L302.82 594.64 L303.53 594.57 L304.24 594.45 L304.94 594.57 L305.65 594.42 L306.35 594.38 L307.06 594.52 L307.76 594.44 L308.47 594.43 L309.18 594.41 L309.88 594.47 L310.59 594.33 L311.29 594.4 L312 594.35 L312.71 594.37 L313.41 594.25 L314.12 594.3 L314.82 594.25 L315.53 594.17 L316.24 594.12 L316.94 594.21 L317.65 594.06 L318.35 594.24 L319.06 594.04 L319.76 593.99 L320.47 593.99 L321.18 594.17 L321.88 594.02 L322.59 593.95 L323.29 593.9 L324 593.89 L324.7 594.07 L325.4 594.07 L326.1 594.11 L326.8 594.14 L327.5 594 L328.2 594.14 L328.9 594.11 L329.6 594.24 L330.3 594.26 L331 594.29 L331.7 594.12 L332.4 594.33 L333.1 594.36 L333.8 594.39 L334.5 594.21 L335.2 594.25 L335.9 594.25 L336.6 594.25 L337.3 594.46 L338 594.47 L338.7 594.45 L339.4 594.52 L340.1 594.59 L340.8 594.27 L341.5 594.1 L342.2 594.12 L342.9 594.8 L343.6 594.26 L344.3 594.4 L345 594.52 L345.7 594.14 L346.4 594.4 L347.1 594.44 L347.8 594.9 L348.5 594.57 L349.22 594.5 L349.93 595.12 L350.65 594.64 L351.37 594.96 L352.09 594.71 L352.8 594.1 L353.52 594.46 L354.24 594.46 L354.96 594.78 L355.67 594.33 L356.39 594.67 L357.11 594.48 L357.83 594.13 L358.54 594.76 L359.26 593.96 L359.98 594.67 L360.7 594 L361.41 593.81 L362.13 593.99 L362.85 594.53 L363.57 594.72 L364.28 593.73 L365 594.19 L365.75 593.82 L366.5 593.76 L367.25 592.78 L368 592.73 L368.75 592.21 L369.5 592.33 L370.26 591.3 L371.02 591.52 L371.78 590.4 L372.54 589.87 L373.3 589.9 L374.07 588.93 L374.83 587.78 L375.6 587.55 L376.35 582.39 L377.1 578.62 L378 573.97 L378.9 569.52 L380.2 574.64 L380.95 573.59 L381.7 572.89 L382.9 569.88 L383.9 574.93 L384.7 573.69 L385.5 574.23 L386.45 575.93 L387.4 578.78 L388.15 575.79 L388.9 573.44 L389.85 570.75 L390.8 568.37 L391.53 568.16 L392.27 566.67 L393 566.16 L394.1 560.23 L395.3 565.78 L396.05 563.48 L396.8 561.06 L397.55 562.63 L398.3 564.51 L399.07 564.05 L399.83 564.54 L400.6 564.08 L401.37 566.2 L402.13 567.6 L402.9 569.93 L403.65 571.63 L404.4 572.74 L405.15 573.56 L405.9 575.26 L406.65 576.85 L407.4 577.26 L408.15 578.34 L408.9 579.58 L409.7 576.62 L410.5 573.38 L411.25 576.42 L412 580.22 L412.75 578.82 L413.5 577.41 L414.27 579.62 L415.03 581.23 L415.8 583.41 L416.53 584.02 L417.27 585.66 L418 586.15 L418.77 583.96 L419.53 583.41 L420.3 580.96 L421.4 590.37 L422.35 590.63 L423.3 590.02 L424.3 588.81 L425.3 587.33 L426.2 581.02 L427.1 575.45 L428 571.07 L428.9 567.38 L429.9 571.78 L430.9 575.59 L431.65 576.16 L432.4 576.77 L433.15 576.84 L433.9 576.8 L434.67 576.71 L435.43 576.29 L436.2 575.71 L436.95 576.01 L437.7 575.6 L438.45 575.77 L439.2 575.75 L439.98 575.6 L440.75 576.13 L441.52 576.7 L442.3 576.71 L443.05 577.08 L443.8 578.19 L444.55 578.94 L445.3 579.4 L446.05 580.27 L446.8 581.39 L447.55 582.15 L448.3 583.06 L449.07 583.02 L449.85 583.04 L450.62 583.57 L451.4 583.16 L452.15 583.14 L452.9 583.16 L453.65 582.71 L454.4 582.24 L455.16 582.13 L455.92 582.62 L456.68 582.95 L457.44 583.43 L458.2 583.5 L458.96 583.46 L459.71 583.41 L460.47 582.52 L461.22 582.3 L461.98 582 L462.73 581.57 L463.49 581.26 L464.24 581.05 L465 580.49 L465.73 580.39 L466.46 580.07 L467.19 580 L467.92 579.81 L468.65 579.49 L469.38 579.17 L470.12 579.06 L470.85 578.83 L471.58 578.64 L472.31 578.37 L473.04 578.18 L473.77 578 L474.5 577.71 L475.25 576.81 L475.99 576.08 L476.74 575.04 L477.48 574.29 L478.23 573.36 L478.97 572.58 L479.72 571.56 L480.46 570.91 L481.21 569.89 L481.95 568.96 L482.7 568.15 L483.46 567.11 L484.21 565.95 L484.97 564.98 L485.72 563.91 L486.48 562.91 L487.23 561.76 L487.99 560.68 L488.74 559.6 L489.5 558.66 L490.32 557.63 L491.14 556.45 L491.96 555.29 L492.78 554.35 L493.6 553.17 L494.4 550.4 L495.2 547.64 L496 545.07 L496.85 538.92 L497.7 532.73 L498.47 529.13 L499.23 525.58 L500 521.93 L500.8 520.41 L501.6 518.56 L502.4 516.93 L503.2 517.53 L504 518.08 L504.95 521.24 L505.9 524.45 L506.6 529.68 L507.3 534.74 L508 540.08 L509 547.22 L510 554.58 L510.77 557.17 L511.54 559.93 L512.31 562.63 L513.09 565.4 L513.86 568.07 L514.63 570.75 L515.4 573.65 L516.12 575.43 L516.84 577.3 L517.56 579.19 L518.28 581.12 L519 582.98 L519.77 584.2 L520.53 585.37 L521.3 586.47 L522.07 587.77 L522.83 588.92 L523.6 589.89 L524.35 590.7 L525.09 591.33 L525.84 591.92 L526.58 592.39 L527.33 593.17 L528.07 593.74 L528.82 594.21 L529.56 594.83 L530.31 595.67 L531.05 596.22 L531.8 596.74 L532.54 597.13 L533.29 597.57 L534.03 598.02 L534.77 598.58 L535.51 598.91 L536.26 599.29 L537 599.9 L537.71 600.18 L538.42 600.35 L539.14 600.83 L539.85 601.08 L540.56 601.43 L541.28 601.72 L541.99 602.08 L542.7 602.37 L543.42 602.66 L544.13 602.79 L544.85 603.2 L545.57 603.44 L546.28 603.77 L547 603.99 L547.8 604.35 L548.6 604.53 L549.4 604.72 L550.2 604.98 L551 605.21 L551.7 605.36 L552.4 605.31 L553.1 605.47 L553.8 605.45 L554.5 605.6 L555.2 605.34 L555.9 605.09 L556.6 604.91 L557.3 604.44 L558 604.38 L558.76 603.67 L559.52 603.08 L560.28 602.48 L561.04 601.9 L561.8 601.17 L562.5 600.15 L563.2 599.24 L563.9 598 L564.6 597.1 L565.3 596.07 L566 594.89 L566.8 593.73 L567.6 592.44 L568.4 591.2 L569.2 589.76 L570 588.62 L570.87 589.5 L571.73 590.5 L572.6 591.6 L573.47 590.12 L574.33 589.02 L575.2 587.73 L575.96 586.62 L576.72 585.71 L577.48 584.55 L578.24 583.53 L579 582.51 L580 579.36 L581 576.03 L581.95 575.08 L582.9 574.08 L584.2 570.91 L584.97 567.78 L585.73 564.45 L586.5 561.38 L587.25 562.88 L588 564.5 L589.3 573.45 L590.3 579.3 L591.3 585.38 L592.25 590.99 L593.2 596.88 L594.15 599.5 L595.1 602.39 L596.4 599.78 L597.1 595.45 L598.4 597.38 L599.35 595.87 L600.3 593.82 L601.6 592.93 L602.9 605.93 L603.85 602.53 L604.8 599.03 L606.1 602.98 L607.05 596.7 L608 590.71 L609.3 599.55 L610.6 590.97 L611.9 600.69 L612.77 598.61 L613.63 596.51 L614.5 594.17 L615.4 604.47 L616.1 603.18 L616.4 618.72 L617.7 608.36 L618.3 616" fill="none" stroke="#e2251b" stroke-width="2.6" stroke-linejoin="round"/>
<line x1="85.5" y1="526" x2="85.5" y2="622" stroke="#151515" stroke-width="1.4" stroke-dasharray="1.3 1.1"/>
<line x1="133.5" y1="530" x2="133.5" y2="622" stroke="#151515" stroke-width="1.4" stroke-dasharray="1.3 1.1"/>
<line x1="129.5" y1="518.8" x2="129.5" y2="546.7" stroke="#151515" stroke-width="1.4" stroke-dasharray="1.3 1.1"/>
<line x1="201.5" y1="493" x2="201.5" y2="524.5" stroke="#151515" stroke-width="1.4" stroke-dasharray="1.3 1.1"/>
<line x1="211.5" y1="526.7" x2="211.5" y2="558.5" stroke="#151515" stroke-width="1.4" stroke-dasharray="1.3 1.1"/>
<line x1="379.5" y1="527.3" x2="379.5" y2="622" stroke="#151515" stroke-width="1.4" stroke-dasharray="1.3 1.1"/>
<line x1="535.5" y1="591.4" x2="535.5" y2="607.7" stroke="#151515" stroke-width="1.4" stroke-dasharray="1.3 1.1"/>
<line x1="544.5" y1="591.4" x2="544.5" y2="609" stroke="#151515" stroke-width="1.4" stroke-dasharray="1.3 1.1"/>
<line x1="569.5" y1="581.8" x2="569.5" y2="594" stroke="#151515" stroke-width="1.4" stroke-dasharray="1.3 1.1"/>
<line x1="587.5" y1="550.4" x2="587.5" y2="581.8" stroke="#151515" stroke-width="1.4" stroke-dasharray="1.3 1.1"/>
<line x1="601.5" y1="528.6" x2="601.5" y2="622" stroke="#151515" stroke-width="1.4" stroke-dasharray="1.3 1.1"/>
<path d="M85.6 491.4 V485.3 H133.6 V491.4" fill="none" stroke="#111" stroke-width="1.8"/>
<path d="M378.6 488 V481.2 H603.8 V488" fill="none" stroke="#111" stroke-width="1.8"/>
<text transform="translate(53.8 507.05) scale(1.040 1)" font-size="15.2" font-weight="normal" fill="#222" >Fe</text>
<text x="67.6" y="499.3" font-size="12" fill="#222">3+</text>
<text transform="translate(80 507.55) scale(1.022 1)" font-size="15.2" font-weight="normal" fill="#222" >in Fe (II) sites[Fe(II)]</text>
<text transform="translate(406.1 506.6) scale(1.037 1)" font-size="14.9" font-weight="normal" fill="#222" >Fe in site Fe (II) sites</text>
<text x="417.8" y="496" font-size="11.5" fill="#222">3+</text>
<text x="450.3" y="496" font-size="11.5" fill="#222">3+</text>
<text transform="translate(561.65 502.9) scale(0.999 1)" font-size="14" font-weight="normal" fill="#222" >AlFeOH (~875)</text>
<text transform="translate(559.4 528.3) scale(1.010 1)" font-size="14" font-weight="normal" fill="#222" >FeFeOH (~820)</text>
<line x1="561.8" y1="503.4" x2="586.1" y2="503.4" stroke="#666" stroke-width="1"/>
<line x1="560.6" y1="528.9" x2="601.4" y2="528.9" stroke="#666" stroke-width="1"/>
<line x1="561.8" y1="503.4" x2="535.3" y2="591" stroke="#333" stroke-width="0.9"/>
<line x1="560.6" y1="528.9" x2="544.3" y2="591" stroke="#333" stroke-width="0.9"/>
<ellipse cx="531.3" cy="596" rx="7.6" ry="19.8" fill="none" stroke="#333" stroke-width="1" transform="rotate(-4 531.3 596)"/>
<text transform="translate(79.55 579.8) scale(0.945 1)" font-size="16.86" font-weight="normal" fill="#e0342a" >OH</text>
<text transform="translate(557 569.55) scale(1.028 1)" font-size="16.14" font-weight="normal" fill="#e0342a" >OH</text>
<text transform="translate(513.4 569.5) scale(1.028 1)" font-size="16.14" fill="#e0342a">δOH</text>
<line x1="95.2" y1="583.5" x2="95.2" y2="594.5" stroke="#e04a3a" stroke-width="1.2"/>
<path d="M95.2 594.5 L93.2 590.5 L97.2 590.5 Z" fill="#e04a3a"/>
<line x1="523.1" y1="570.9" x2="526.6" y2="582" stroke="#e04a3a" stroke-width="1.2"/>
<path d="M526.6 582 L523.49 578.79 L527.3 577.58 Z" fill="#e04a3a"/>
<line x1="569.4" y1="570.9" x2="569.4" y2="581" stroke="#e04a3a" stroke-width="1.2"/>
<path d="M569.4 581 L567.4 577 L571.4 577 Z" fill="#e04a3a"/>
<text x="131" y="529.5" font-size="21" font-weight="bold" fill="#4a2cb4">ν</text>
<text x="143" y="532.7" font-size="13.3" font-weight="bold" fill="#4a2cb4">H2O</text>
<circle cx="130" cy="533" r="1.3" fill="#111"/>
</svg>
</body></html>
